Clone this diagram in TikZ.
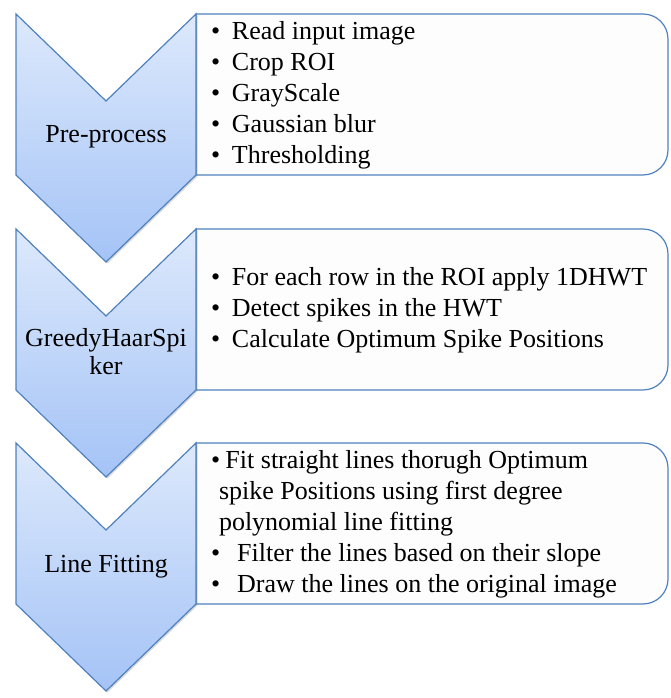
\documentclass[tikz,border=0pt]{standalone}
\usepackage{fontspec}
\setmainfont{Liberation Serif}
\usetikzlibrary{shadows}
\definecolor{chevtop}{RGB}{221,233,252}
\definecolor{chevbot}{RGB}{164,195,246}
\definecolor{chevline}{RGB}{79,129,189}
\definecolor{boxfill}{RGB}{253,253,253}
\tikzset{
  chev/.style={draw=chevline,line width=1.2pt,line join=miter,top color=chevtop,bottom color=chevbot,
    drop shadow={opacity=0.3,shadow xshift=1.5pt,shadow yshift=-1.5pt}},
  stepbox/.style={draw=chevline,line width=1.2pt,fill=boxfill},
  chevlabel/.style={align=center,inner sep=0pt,font=\fontsize{26}{28}\selectfont},
  items/.style={anchor=west,align=left,inner sep=0pt,font=\fontsize{26}{31}\selectfont}
}
\begin{document}
\begin{tikzpicture}[x=1pt,y=1pt]
  \useasboundingbox (0,0) rectangle (670,698);
  % Pre-process
  \draw[stepbox] (196,684) -- (643,684) arc[start angle=90,end angle=0,radius=25]
    -- (668,548) arc[start angle=0,end angle=-90,radius=25] -- (196,523) -- cycle;
  \draw[chev] (16,684) -- (106,597) -- (196,684) -- (196,523) -- (106,436) -- (16,523) -- cycle;
  \node[chevlabel] (pre) at (106,561) {Pre-process};
  \node[items] (prebox) at (211,603) {\textbullet\hspace{0.45em}Read input image\\
    \textbullet\hspace{0.45em}Crop ROI\\ \textbullet\hspace{0.45em}GrayScale\\
    \textbullet\hspace{0.45em}Gaussian blur\\ \textbullet\hspace{0.45em}Thresholding};
  % GreedyHaarSpiker
  \draw[stepbox] (196,469) -- (643,469) arc[start angle=90,end angle=0,radius=25]
    -- (668,333) arc[start angle=0,end angle=-90,radius=25] -- (196,308) -- cycle;
  \draw[chev] (16,469) -- (106,382) -- (196,469) -- (196,308) -- (106,221) -- (16,308) -- cycle;
  \node[chevlabel] (haar) at (106,346) {GreedyHaarSpi\\ker};
  \node[items] (haarbox) at (211,388) {\textbullet\hspace{0.45em}For each row in the ROI apply 1DHWT\\
    \textbullet\hspace{0.45em}Detect spikes in the HWT\\
    \textbullet\hspace{0.45em}Calculate Optimum Spike Positions};
  % Line Fitting
  \draw[stepbox] (196,255) -- (643,255) arc[start angle=90,end angle=0,radius=25]
    -- (668,119) arc[start angle=0,end angle=-90,radius=25] -- (196,94) -- cycle;
  \draw[chev] (16,255) -- (106,168) -- (196,255) -- (196,94) -- (106,7) -- (16,94) -- cycle;
  \node[chevlabel] (fit) at (106,131) {Line Fitting};
  \node[items] (fitbox) at (211,174) {\textbullet\hspace{0.2em}Fit straight lines thorugh Optimum\\
    \hspace{0.3em}spike Positions using first degree\\
    \hspace{0.3em}polynomial line fitting\\
    \textbullet\hspace{0.65em}Filter the lines based on their slope\\
    \textbullet\hspace{0.65em}Draw the lines on the original image};
\end{tikzpicture}
\end{document}
